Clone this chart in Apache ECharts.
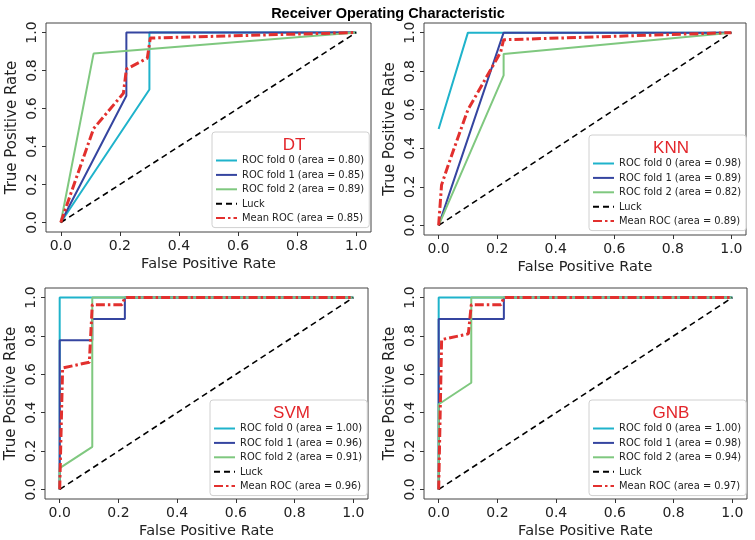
<!DOCTYPE html>
<html>
<head>
<meta charset="utf-8">
<script src="https://cdn.jsdelivr.net/npm/echarts@6/dist/echarts.min.js"></script>
<style>
html,body{margin:0;padding:0;background:#fff;}
#chart{width:755px;height:540px;}
</style>
</head>
<body>
<div id="chart"></div>
<script>
// ---------- data ----------
const mainTitle = 'Receiver Operating Characteristic';
const panelNames = ['DT', 'KNN', 'SVM', 'GNB'];
const tickValues = [0, 0.2, 0.4, 0.6, 0.8, 1.0];
const xAxisName = 'False Positive Rate';
const yAxisName = 'True Positive Rate';

const foldAreas = [
  ['0.80', '0.85', '0.89'],
  ['0.98', '0.89', '0.82'],
  ['1.00', '0.96', '0.91'],
  ['1.00', '0.98', '0.94']
];
const meanAreas = ['0.85', '0.89', '0.96', '0.97'];

const luck = [[0, 0], [1, 1]];

// DT
const dtFold0 = [[0, 0], [0.3, 0.7], [0.3, 1], [1, 1]];
const dtFold1 = [[0, 0], [0.222, 0.667], [0.222, 1], [1, 1]];
const dtFold2 = [[0, 0], [0.111, 0.889], [1, 1]];
const dtMean  = [[0, 0], [0.01, 0.045], [0.02, 0.09], [0.111, 0.494], [0.212, 0.68], [0.222, 0.807], [0.293, 0.865], [0.303, 0.971], [1, 1]];

// KNN
const knnFold0 = [[0, 0.5], [0.1, 1], [1, 1]];
const knnFold1 = [[0, 0], [0.222, 1], [1, 1]];
const knnFold2 = [[0, 0], [0.222, 0.778], [0.222, 0.889], [1, 1]];
const knnMean  = [[0, 0], [0.01, 0.21], [0.03, 0.30], [0.06, 0.43], [0.1, 0.6], [0.2, 0.867], [0.212, 0.90], [0.222, 0.963], [1, 1]];

// SVM
const svmFold0 = [[0, 0], [0, 1], [1, 1]];
const svmFold1 = [[0, 0], [0, 0.778], [0.111, 0.778], [0.111, 0.889], [0.222, 0.889], [0.222, 1], [1, 1]];
const svmFold2 = [[0, 0], [0, 0.111], [0.111, 0.222], [0.111, 1], [1, 1]];
const svmMean  = [[0, 0], [0.01, 0.633], [0.101, 0.663], [0.111, 0.963], [0.212, 0.963], [0.222, 1], [1, 1]];

// GNB
const gnbFold0 = [[0, 0], [0, 1], [1, 1]];
const gnbFold1 = [[0, 0], [0, 0.889], [0.222, 0.889], [0.222, 1], [1, 1]];
const gnbFold2 = [[0, 0], [0, 0.444], [0.111, 0.556], [0.111, 1], [1, 1]];
const gnbMean  = [[0, 0], [0.01, 0.781], [0.101, 0.811], [0.111, 0.963], [0.212, 0.963], [0.222, 1], [1, 1]];

const foldData = [
  [dtFold0, dtFold1, dtFold2],
  [knnFold0, knnFold1, knnFold2],
  [svmFold0, svmFold1, svmFold2],
  [gnbFold0, gnbFold1, gnbFold2]
];
const meanData = [dtMean, knnMean, svmMean, gnbMean];

// ---------- layout / style ----------
const FONT = 'DejaVu Sans';
const LFONT = 'DejaVu Sans Condensed, DejaVu Sans';
const foldColors = ['#1fb3cb', '#3545a0', '#7fc87f'];
const meanColor = '#e2302e';
const grids = [
  {left: 46, top: 23, width: 325, height: 209},
  {left: 424, top: 23, width: 322, height: 212},
  {left: 45, top: 288, width: 323, height: 212},
  {left: 424, top: 288, width: 323, height: 212}
];
const legendBoxes = [
  {left: 212, top: 132, w: 154},
  {left: 589, top: 135, w: 154},
  {left: 210, top: 400, w: 153},
  {left: 589, top: 400, w: 154}
];

const option = {
  animation: false,
  backgroundColor: '#fff',
  title: [{
    text: mainTitle, left: 383, top: 1, textAlign: 'center',
    textStyle: {fontFamily: 'Liberation Sans', fontWeight: 'bold', fontSize: 14.5, color: '#000'}
  }],
  grid: [], xAxis: [], yAxis: [], legend: [], series: []
};

for (let i = 0; i < 4; i++) {
  const g = grids[i];
  option.grid.push({
    left: g.left, top: g.top, width: g.width, height: g.height,
    show: true, borderColor: '#444', borderWidth: 1, backgroundColor: 'transparent',
    containLabel: false
  });
  const axisLabel = {
    customValues: tickValues,
    formatter: v => v.toFixed(1),
    fontFamily: FONT, fontSize: 14, color: '#222'
  };
  option.xAxis.push({
    type: 'value', gridIndex: i, min: -0.05, max: 1.05, position: 'bottom',
    splitLine: {show: false},
    axisLine: {show: false, onZero: false},
    axisTick: {show: true, customValues: tickValues, length: 4, lineStyle: {color: '#333'}},
    axisLabel: Object.assign({margin: 7}, axisLabel),
    name: xAxisName, nameLocation: 'middle', nameGap: 25,
    nameTextStyle: {fontFamily: FONT, fontSize: 14.5, color: '#222'}
  });
  option.yAxis.push({
    type: 'value', gridIndex: i, min: -0.05, max: 1.05, position: 'left',
    splitLine: {show: false},
    axisLine: {show: false, onZero: false},
    axisTick: {show: true, customValues: tickValues, length: 4, lineStyle: {color: '#333'}},
    axisLabel: Object.assign({margin: 7, rotate: 90, align: 'center', verticalAlign: 'bottom'}, axisLabel),
    name: yAxisName, nameLocation: 'middle', nameGap: 26,
    nameTextStyle: {fontFamily: FONT, fontSize: 15, color: '#222'}
  });

  const names = [];
  for (let f = 0; f < 3; f++) {
    const nm = 'ROC fold ' + f + ' (area = ' + foldAreas[i][f] + ')';
    names.push(nm);
    option.series.push({
      type: 'line', name: nm, xAxisIndex: i, yAxisIndex: i,
      data: foldData[i][f], symbol: 'none', silent: true, z: 2 + f,
      lineStyle: {color: foldColors[f], width: 2},
      itemStyle: {color: foldColors[f]}
    });
  }
  names.push('Luck');
  option.series.push({
    type: 'line', name: 'Luck', xAxisIndex: i, yAxisIndex: i,
    data: luck, symbol: 'none', silent: true, z: 6,
    lineStyle: {color: '#000', width: 1.6, type: [6, 4]},
    itemStyle: {color: '#000'}
  });
  const mn = 'Mean ROC (area = ' + meanAreas[i] + ')';
  names.push(mn);
  option.series.push({
    type: 'line', name: mn, xAxisIndex: i, yAxisIndex: i,
    data: meanData[i], symbol: 'none', silent: true, z: 7,
    lineStyle: {color: meanColor, width: 3, type: [9, 3, 2.5, 3]},
    itemStyle: {color: meanColor}
  });

  const lb = legendBoxes[i];
  option.legend.push({
    data: names, orient: 'vertical', left: lb.left, top: lb.top,
    padding: [22, 5, 3, 3], itemGap: 1.4, itemWidth: 21, itemHeight: 10,
    backgroundColor: 'rgba(255,255,255,0.85)', borderColor: '#d0d0d0', borderWidth: 1, borderRadius: 3,
    selectedMode: false,
    itemStyle: {color: 'rgba(0,0,0,0)', borderColor: 'rgba(0,0,0,0)', borderWidth: 0, opacity: 0},
    textStyle: {fontFamily: LFONT, fontSize: 11, color: '#222', lineHeight: 13}
  });
  option.title.push({
    text: panelNames[i], left: lb.left + lb.w / 2, top: lb.top, textAlign: 'center',
    textStyle: {fontFamily: 'Liberation Sans', fontWeight: 'normal', fontSize: 17, color: '#e3262b'}
  });
}

const chart = echarts.init(document.getElementById('chart'), null, {renderer: 'canvas'});
chart.setOption(option);
</script>
</body>
</html>
